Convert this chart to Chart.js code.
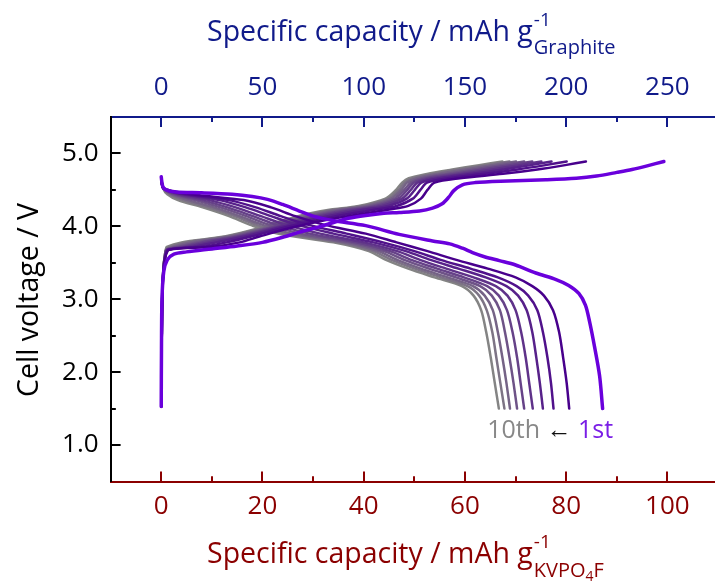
<!DOCTYPE html>
<html lang="en">
<head>
<meta charset="UTF-8">
<title>KVPO4F / graphite cell cycling</title>
<script src="https://cdn.jsdelivr.net/npm/chart.js"></script>
<style>
  body { margin: 0; background: #fff; }
  #wrap { width: 715px; height: 581px; }
</style>
</head>
<body>
<div id="wrap"><canvas id="cellChart" width="715" height="581"></canvas></div>
<script>
// tick labels
const xTicks = [0, 20, 40, 60, 80, 100];     // mAh/g KVPO4F
const topTicks = [0, 50, 100, 150, 200, 250]; // mAh/g graphite
const yTicks = [1, 2, 3, 4, 5];
const massRatio = 2.5; // graphite capacity per KVPO4F capacity

// 1st cycle: [capacity, voltage]
const charge1 = [[0, 1.53], [0.05, 2.3], [0.15, 3.0], [0.5, 3.38], [1.2, 3.54], [2.5, 3.62], [5, 3.65],
  [10, 3.69], [15, 3.73], [20, 3.78], [24, 3.85], [27.3, 3.92], [31, 3.99], [33.9, 4.05], [37, 4.11],
  [40.4, 4.15], [44, 4.18], [47, 4.19], [51, 4.21], [53.6, 4.25], [55.5, 4.31], [56.8, 4.40], [57.8, 4.49],
  [59.5, 4.57], [62, 4.60], [67, 4.62], [76, 4.64], [82, 4.66], [86, 4.69], [90, 4.74], [93, 4.78],
  [96, 4.83], [99.3, 4.89]];
const discharge1 = [[0, 4.68], [0.3, 4.55], [1, 4.50], [3, 4.47], [8, 4.46], [14, 4.44], [18, 4.41],
  [21, 4.37], [24, 4.30], [27.3, 4.21], [30, 4.14], [33.9, 4.08], [40.4, 4.01], [47, 3.89], [53.6, 3.80],
  [57, 3.76], [59.5, 3.70], [61.5, 3.64], [64, 3.58], [66.8, 3.53], [70, 3.47], [74, 3.36], [78, 3.27],
  [80.5, 3.19], [82.5, 3.08], [83.8, 2.92], [84.6, 2.70], [85.6, 2.35], [86.6, 1.95], [87.2, 1.5]];

// cycles 2..10 on shared voltage grids, one capacity row per cycle
const chargeVolts = [1.53, 2.40, 3.10, 3.45, 3.60, 3.68, 3.72, 3.78, 3.86, 3.96, 4.05, 4.12, 4.18, 4.23,
  4.28, 4.38, 4.50, 4.60, 4.66, 4.72, 4.78, 4.84, 4.89];
const chargeCaps = [
  [0, 0.1, 0.25, 0.55, 0.9, 1.6, 10.0, 15.5, 19.4, 24.5, 30.0, 35.2, 40.4, 45.0, 48.8, 51.3, 52.6, 54.0, 59.0, 67.5, 74.3, 79.8, 83.9],
  [0, 0.1, 0.24, 0.53, 0.85, 1.4, 8.0, 12.9, 17.8, 23.1, 28.3, 33.1, 37.9, 42.4, 46.5, 49.7, 51.2, 52.5, 56.7, 64.0, 70.4, 75.9, 80.1],
  [0, 0.1, 0.23, 0.51, 0.82, 1.3, 6.4, 10.9, 16.6, 22.1, 27.0, 31.5, 36.0, 40.4, 44.9, 48.5, 50.1, 51.4, 55.0, 61.5, 67.6, 73.0, 77.1],
  [0, 0.1, 0.22, 0.50, 0.80, 1.2, 5.3, 9.4, 15.7, 21.3, 26.0, 30.3, 34.6, 38.9, 43.6, 47.6, 49.3, 50.6, 53.6, 59.5, 65.4, 70.8, 75.1],
  [0, 0.1, 0.22, 0.49, 0.78, 1.15, 4.3, 8.1, 15.0, 20.7, 25.2, 29.3, 33.4, 37.6, 42.5, 46.8, 48.6, 49.9, 52.5, 57.9, 63.5, 68.9, 73.3],
  [0, 0.1, 0.21, 0.48, 0.76, 1.08, 3.4, 7.0, 14.3, 20.1, 24.5, 28.4, 32.3, 36.5, 41.6, 46.1, 48.0, 49.3, 51.5, 56.4, 61.9, 67.2, 71.7],
  [0, 0.1, 0.21, 0.47, 0.74, 1.0, 2.5, 5.8, 13.6, 19.5, 23.7, 27.5, 31.2, 35.3, 40.6, 45.4, 47.4, 48.6, 50.5, 54.9, 60.2, 65.5, 70.1],
  [0, 0.1, 0.20, 0.46, 0.72, 0.95, 1.8, 4.9, 13.0, 19.0, 23.1, 26.7, 30.4, 34.4, 39.8, 44.9, 46.9, 48.1, 49.7, 53.7, 58.8, 64.2, 68.8],
  [0, 0.1, 0.20, 0.45, 0.70, 0.9, 1.1, 4.0, 12.5, 18.5, 22.5, 26.0, 29.5, 33.5, 39.0, 44.3, 46.4, 47.6, 48.9, 52.5, 57.5, 62.8, 67.4]
];
const dischargeVolts = [4.66, 4.52, 4.44, 4.36, 4.26, 4.14, 4.02, 3.90, 3.78, 3.66, 3.54, 3.42, 3.30, 3.18,
  3.05, 2.85, 2.55, 2.20, 1.85, 1.50];
const dischargeCaps = [
  [0, 0.5, 6.0, 16.3, 21.7, 26.5, 32.3, 40.4, 46.5, 52.6, 58.3, 64.5, 70.0, 73.3, 75.6, 77.4, 78.6, 79.4, 80.1, 80.6],
  [0, 0.5, 4.9, 13.4, 18.7, 23.6, 29.1, 36.6, 43.8, 50.0, 55.2, 61.1, 66.5, 70.2, 72.5, 74.3, 75.4, 76.3, 77.0, 77.5],
  [0, 0.5, 4.2, 11.5, 16.7, 21.7, 26.9, 34.0, 41.9, 48.3, 53.2, 58.7, 64.1, 68.2, 70.5, 72.2, 73.3, 74.1, 74.8, 75.4],
  [0, 0.45, 3.5, 9.5, 14.7, 19.7, 24.7, 31.4, 40.0, 46.6, 51.1, 56.3, 61.7, 66.1, 68.4, 70.0, 71.1, 72.0, 72.7, 73.4],
  [0, 0.45, 2.9, 8.0, 13.1, 18.1, 22.9, 29.3, 38.5, 45.2, 49.4, 54.5, 59.8, 64.4, 66.7, 68.3, 69.4, 70.3, 71.0, 71.7],
  [0, 0.4, 2.4, 6.7, 11.7, 16.8, 21.4, 27.5, 37.3, 44.0, 48.0, 52.9, 58.2, 63.0, 65.3, 66.9, 67.9, 68.8, 69.6, 70.3],
  [0, 0.4, 2.0, 5.4, 10.4, 15.5, 20.0, 25.8, 36.0, 42.9, 46.6, 51.3, 56.6, 61.6, 63.9, 65.5, 66.5, 67.4, 68.2, 68.9],
  [0, 0.4, 1.6, 4.3, 9.3, 14.5, 18.8, 24.4, 35.0, 41.9, 45.5, 50.1, 55.3, 60.5, 62.8, 64.3, 65.4, 66.2, 67.0, 67.8],
  [0, 0.4, 1.2, 3.3, 8.2, 13.4, 17.6, 23.0, 34.0, 41.0, 44.4, 48.8, 54.0, 59.4, 61.7, 63.2, 64.2, 65.1, 65.9, 66.7]
];

const FONT = "'Open Sans', 'Noto Sans', sans-serif";
const RED = '#8b0000';
const NAVY = '#101a8a';
const FIRST = '#6a00dc';
const TICK_SIZE = 26;
const TITLE_SIZE = 28.5;

// 2nd cycle is deep indigo, fading to grey by the 10th
function cycleColor(i) {
  const t = i / 8;
  const from = [72, 0, 140], to = [132, 132, 132];
  const c = from.map((v, k) => Math.round(v + (to[k] - v) * t));
  return `rgb(${c[0]},${c[1]},${c[2]})`;
}

const toPoints = pairs => pairs.map(p => ({ x: p[0], y: p[1] }));
const gridPoints = (caps, volts) => caps.map((c, i) => ({ x: c, y: volts[i] }));

const lineStyle = { pointRadius: 0, tension: 0.3, fill: false, borderCapStyle: 'round', borderJoinStyle: 'round' };

const datasets = [
  { ...lineStyle, data: toPoints(charge1), borderColor: FIRST, borderWidth: 3.5 },
  { ...lineStyle, data: toPoints(discharge1), borderColor: FIRST, borderWidth: 3.5 }
];
chargeCaps.forEach((caps, i) => {
  datasets.push({ ...lineStyle, data: gridPoints(caps, chargeVolts), borderColor: cycleColor(i), borderWidth: 2.5 });
  datasets.push({ ...lineStyle, data: gridPoints(dischargeCaps[i], dischargeVolts), borderColor: cycleColor(i), borderWidth: 2.5 });
});

const xMin = -10, xMax = 109.4;

// inward tick marks, axis titles and the cycle note
const decorations = {
  id: 'decorations',
  afterDraw(chart) {
    const ctx = chart.ctx;
    const { x, x2, y } = chart.scales;
    const area = chart.chartArea;
    ctx.save();
    ctx.lineWidth = 2;

    function vTicks(scale, majors, step, yEdge, dir, color) {
      ctx.strokeStyle = color;
      const all = [];
      majors.forEach(v => { all.push([v, 10]); all.push([v - step / 2, 5]); all.push([v + step / 2, 5]); });
      all.forEach(([v, len]) => {
        if (v <= scale.min || v >= scale.max) return;
        const px = Math.round(scale.getPixelForValue(v));
        ctx.beginPath();
        ctx.moveTo(px, yEdge);
        ctx.lineTo(px, yEdge + dir * len);
        ctx.stroke();
      });
    }
    vTicks(x, xTicks, 20, area.bottom, -1, RED);
    vTicks(x2, topTicks, 50, area.top, 1, NAVY);

    ctx.strokeStyle = '#000';
    const yAll = [];
    yTicks.forEach(v => { yAll.push([v, 10]); yAll.push([v - 0.5, 5]); yAll.push([v + 0.5, 5]); });
    yAll.forEach(([v, len]) => {
      if (v <= y.min || v >= y.max) return;
      const py = Math.round(y.getPixelForValue(v));
      ctx.beginPath();
      ctx.moveTo(area.left, py);
      ctx.lineTo(area.left + len, py);
      ctx.stroke();
    });

    // axis titles with super/subscripts
    function capacityTitle(color, base, subParts) {
      const main = 'Specific capacity / mAh g';
      ctx.fillStyle = color;
      ctx.textAlign = 'left';
      ctx.textBaseline = 'alphabetic';
      ctx.font = `${TITLE_SIZE}px ${FONT}`;
      const x0 = 207;
      ctx.fillText(main, x0, base);
      const sx = x0 + ctx.measureText(main).width + 1;
      ctx.font = `19px ${FONT}`;
      ctx.fillText('-1', sx, base - 15);
      let cx = sx;
      subParts.forEach(([t, size, dy]) => {
        ctx.font = `${size}px ${FONT}`;
        ctx.fillText(t, cx, base + dy);
        cx += ctx.measureText(t).width;
      });
    }
    capacityTitle(NAVY, 41, [['Graphite', 20, 13]]);
    capacityTitle(RED, 563, [['KVPO', 20, 14], ['4', 14, 18], ['F', 20, 14]]);

    ctx.save();
    ctx.translate(38, 300);
    ctx.rotate(-Math.PI / 2);
    ctx.fillStyle = '#000';
    ctx.textAlign = 'center';
    ctx.font = `${TITLE_SIZE}px ${FONT}`;
    ctx.fillText('Cell voltage / V', 0, 0);
    ctx.restore();

    // cycle order note
    ctx.font = `25px ${FONT}`;
    ctx.textAlign = 'left';
    let nx = x.getPixelForValue(64.4);
    const ny = y.getPixelForValue(1.09);
    [['10th', '#888888'], [' \u2190 ', '#111111'], ['1st', '#7a1ee6']].forEach(([t, c]) => {
      ctx.fillStyle = c;
      ctx.fillText(t, nx, ny);
      nx += ctx.measureText(t).width;
    });
    ctx.restore();
  }
};

new Chart(document.getElementById('cellChart'), {
  type: 'line',
  data: { datasets },
  plugins: [decorations],
  options: {
    responsive: false,
    animation: false,
    layout: { padding: 0 },
    plugins: { legend: { display: false }, tooltip: { enabled: false } },
    scales: {
      x: {
        type: 'linear', position: 'bottom', min: xMin, max: xMax,
        afterBuildTicks: s => { s.ticks = xTicks.map(v => ({ value: v })); },
        afterFit: s => { s.height = 99.5; },
        grid: { display: false, drawTicks: false },
        border: { display: true, color: RED, width: 2 },
        ticks: { color: RED, font: { family: FONT, size: TICK_SIZE }, padding: 9, maxRotation: 0 }
      },
      x2: {
        type: 'linear', axis: 'x', position: 'top', min: xMin * massRatio, max: xMax * massRatio,
        afterBuildTicks: s => { s.ticks = topTicks.map(v => ({ value: v })); },
        afterFit: s => { s.height = 117; },
        grid: { display: false, drawTicks: false },
        border: { display: true, color: NAVY, width: 2 },
        ticks: { color: NAVY, font: { family: FONT, size: TICK_SIZE }, padding: 14, maxRotation: 0 }
      },
      y: {
        type: 'linear', position: 'left', min: 0.5, max: 5.5,
        afterBuildTicks: s => { s.ticks = yTicks.map(v => ({ value: v })); },
        afterFit: s => { s.width = 110.6; },
        grid: { display: false, drawTicks: false },
        border: { display: true, color: '#000', width: 2 },
        ticks: { color: '#000', font: { family: FONT, size: TICK_SIZE }, padding: 12, callback: v => v.toFixed(1) }
      }
    }
  }
});
</script>
</body>
</html>
